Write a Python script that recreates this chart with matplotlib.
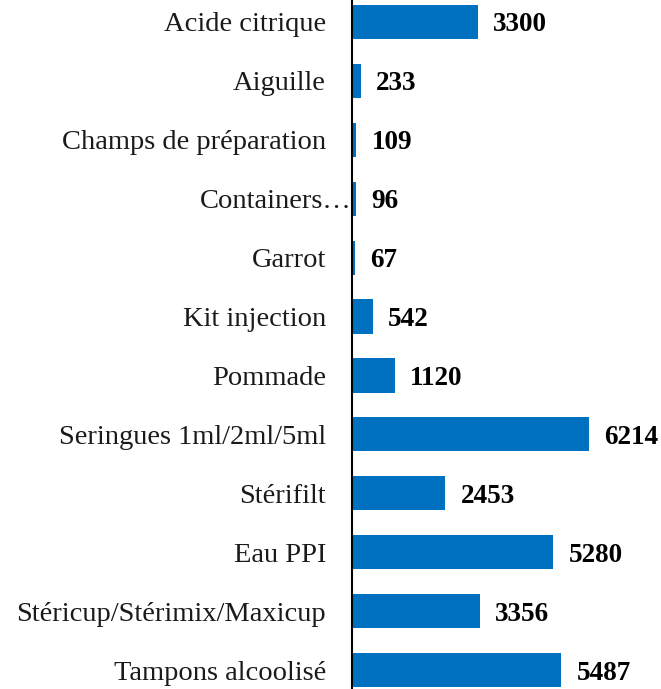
import matplotlib.pyplot as plt
import matplotlib.transforms as mtransforms

# --- DATA ---
categories = ["Acide citrique", "Aiguille", "Champs de préparation", "Containers…",
              "Garrot", "Kit injection", "Pommade", "Seringues 1ml/2ml/5ml",
              "Stérifilt", "Eau PPI", "Stéricup/Stérimix/Maxicup", "Tampons alcoolisé"]
values = [3300, 233, 109, 96, 67, 542, 1120, 6214, 2453, 5280, 3356, 5487]

plt.rcParams['font.family'] = ['Liberation Serif', 'DejaVu Serif']

fig = plt.figure(figsize=(6.61, 6.89), dpi=100)
ax = fig.add_axes([352/661, -0.01524, 1 - 352/661, 1.0261])

pos = list(range(len(categories)))
ax.barh(pos, values, height=0.58, color='#0070C0')
ax.set_ylim(len(categories) - 0.5, -0.5)
ax.set_xlim(0, 309/0.0381)

for p, v in zip(pos, values):
    ax.annotate(str(v), (v, p), xytext=(11, 0), textcoords='offset points',
                ha='left', va='center_baseline', fontsize=19.5, fontweight='bold',
                color='black')

ax.set_yticks(pos)
ax.set_yticklabels(categories, fontsize=20.5, color='#1a1a1a')
ax.tick_params(axis='y', length=0, pad=18.7)
ax.set_xticks([])
for lab in ax.get_yticklabels():
    if lab.get_text().startswith("Containers"):
        lab.set_transform(lab.get_transform() +
                          mtransforms.ScaledTranslation(26/100, 0, fig.dpi_scale_trans))

for s in ['top', 'right', 'bottom']:
    ax.spines[s].set_visible(False)
ax.spines['left'].set_linewidth(1.5)
ax.spines['left'].set_color('black')

fig.savefig('out.png', dpi=100)
